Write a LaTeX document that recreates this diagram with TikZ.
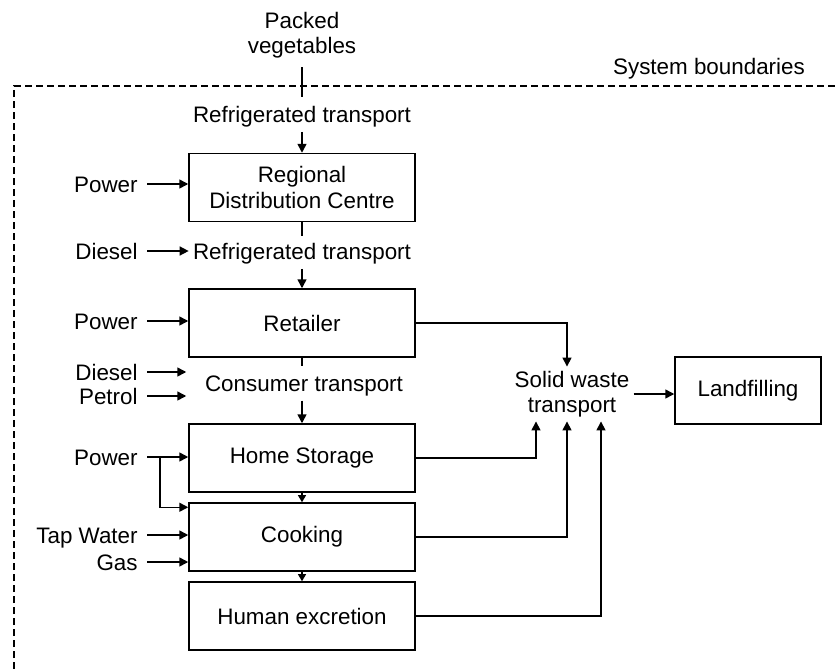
\documentclass[tikz,border=0pt]{standalone}
\usepackage{fontspec}
\setmainfont{Liberation Sans}
\usetikzlibrary{arrows.meta}

\begin{document}
\begin{tikzpicture}[
  x=0.5pt, y=-0.5pt,
  every node/.style={font=\fontsize{11.2}{12.6}\selectfont},
  stage/.style={draw, line width=0.75pt, minimum width=113pt, minimum height=34pt,
                align=center, inner sep=0pt},
  label/.style={inner sep=2pt, align=center},
  input/.style={anchor=east, inner xsep=4.5pt, inner ysep=0pt, text height=8pt, text depth=0pt},
  flow/.style={line width=0.75pt},
  arr/.style={flow, -{Triangle[length=4.5pt,width=4.5pt]}},
  smallarr/.style={flow, -{Triangle[length=3.6pt,width=4pt]}},
  boundary/.style={line width=0.75pt, dash pattern=on 3.5pt off 2pt}
]
\useasboundingbox (0,0) rectangle (835,669);

% system boundary
\draw[boundary] (14,669) -- (14,86) -- (835,86);
\node[label] (sb) at (709,69) {System boundaries};

% main chain
\node[label] (pv) at (302,35) {Packed\\vegetables};
\node[label] (rt1) at (302,117) {Refrigerated transport};
\node[stage] (rdc) at (302,187.5) {Regional\\Distribution Centre};
\node[label] (rt2) at (302,254) {Refrigerated transport};
\node[stage] (ret) at (302,323) {Retailer};
\node[label] (ct) at (304,386) {Consumer transport};
\node[stage] (hs) at (302,458) {Home Storage};
\node[stage] (cook) at (302,537) {Cooking};
\node[stage] (he) at (302,616) {Human excretion};

% waste route
\node[label] (swt) at (572,394) {Solid waste\\transport};
\node[stage, minimum width=73pt, minimum height=33.5pt] (land) at (748,390.5) {Landfilling};

% inputs
\node[input] (pw1) at (147,184) {Power};
\node[input] (ds1) at (147,251) {Diesel};
\node[input] (pw2) at (147,321) {Power};
\node[input] (ds2) at (147,372) {Diesel};
\node[input] (pt2) at (147,396) {Petrol};
\node[input] (pw3) at (147,457) {Power};
\node[input] (tw) at (147,535) {Tap Water};
\node[input] (gas) at (147,562) {Gas};

% vertical flow
\draw[flow, shorten <=2.5pt, shorten >=2.5pt] (pv.south) -- (rt1.north);
\draw[arr] (rt1.south) -- (rdc.north);
\draw[flow, shorten >=1.5pt] (rdc.south) -- (rt2.north);
\draw[arr] (rt2.south) -- (ret.north);
\draw[flow, shorten >=2.5pt] (ret.south) -- (ct.north -| ret.south);
\draw[arr] (ct.south -| hs.north) -- (hs.north);
\draw[smallarr] (hs.south) -- (cook.north);
\draw[smallarr] (cook.south) -- (he.north);

% input arrows
\draw[arr] (pw1.east) -- (pw1.east -| rdc.west);
\draw[arr] (ds1.east) -- (ds1.east -| rt2.west);
\draw[arr] (pw2.east) -- (pw2.east -| ret.west);
\draw[arr] (ds2.east) -- ([xshift=-1pt]ds2.east -| ret.west);
\draw[arr] (pt2.east) -- ([xshift=-1pt]pt2.east -| ret.west);
\draw[arr] (pw3.east) -- (pw3.east -| hs.west);
\coordinate (br) at (160,457);
\draw[arr] (br) |- ([yshift=-2.5pt]cook.north west);
\draw[arr] (tw.east) -- (tw.east -| cook.west);
\draw[arr] (gas.east) -- (gas.east -| cook.west);

% waste arrows
\draw[arr] (ret.east) -| ([xshift=-2.5pt]swt.north);
\draw[arr] (hs.east) -| ([xshift=-18pt]swt.south);
\draw[arr] (cook.east) -| ([xshift=-2.5pt]swt.south);
\draw[arr] (he.east) -| ([xshift=14.5pt]swt.south);
\draw[arr] (swt.east) -- (swt.east -| land.west);
\end{tikzpicture}
\end{document}
